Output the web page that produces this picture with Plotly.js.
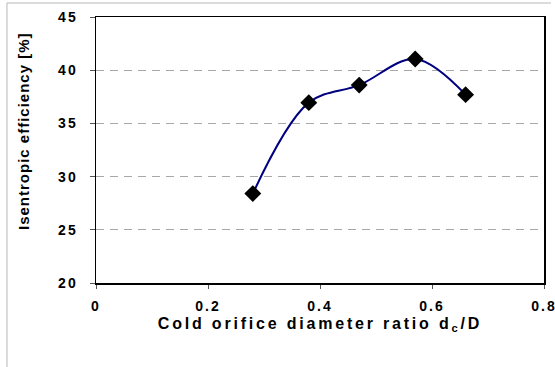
<!DOCTYPE html>
<html><head><meta charset="utf-8">
<script src="https://cdn.plot.ly/plotly-3.0.1.min.js"></script>
<style>
html,body{margin:0;padding:0;background:#fff;}
#chart{width:555px;height:367px;}
.xtick text,.ytick text{letter-spacing:2px;font-weight:bold !important;}
.g-xtitle text{letter-spacing:2.8px;font-weight:bold !important;}
.annotation-text{letter-spacing:1px;font-weight:bold !important;}
</style>
</head><body>
<div id="chart"></div>
<script>
const ratio = [0.28, 0.38, 0.47, 0.57, 0.66];
const efficiency = [28.4, 36.95, 38.6, 41.05, 37.7];
const yTicks = [20, 25, 30, 35, 40, 45];
const xTicks = [0, 0.2, 0.4, 0.6, 0.8];
const xTickText = ['0', '0.2', '0.4', '0.6', '0.8'];
const xTitle = 'Cold orifice diameter ratio d<sub>c</sub>/D';
const yTitle = 'Isentropic efficiency [%]';

const trace = {
  x: ratio, y: efficiency, type: 'scatter', mode: 'lines+markers',
  line: {color: '#000080', width: 2, shape: 'spline', smoothing: 1},
  marker: {symbol: 'diamond', size: 13, color: '#000000', line: {width: 0}},
  hoverinfo: 'skip'
};
const fam = 'Liberation Sans, Arial, sans-serif';
const layout = {
  width: 555, height: 367,
  margin: {l: 96, r: 11, t: 17, b: 84},
  paper_bgcolor: '#fff', plot_bgcolor: '#fff',
  showlegend: false,
  font: {family: fam, color: '#000'},
  xaxis: {
    range: [0, 0.8], tickvals: xTicks, ticktext: xTickText,
    showgrid: false, zeroline: false,
    showline: true, linecolor: '#000', linewidth: 1.5, mirror: true,
    ticks: 'outside', ticklen: 4, tickcolor: '#555', tickwidth: 1,
    ticklabeloverflow: 'allow', ticklabelstandoff: 6,
    tickfont: {family: fam, size: 14, color: '#000', weight: 700},
    title: {text: xTitle, standoff: 4,
      font: {family: fam, size: 16, color: '#000', weight: 700}}
  },
  yaxis: {
    range: [20, 45], tickvals: yTicks,
    showgrid: true, gridcolor: '#a8a8a8', gridwidth: 1, griddash: '8px,6px',
    zeroline: false,
    showline: true, linecolor: '#000', linewidth: 1.5, mirror: true,
    ticks: 'outside', ticklen: 5, tickcolor: '#555', tickwidth: 1,
    ticklabelstandoff: 9,
    tickfont: {family: fam, size: 14, color: '#000', weight: 700}
  },
  annotations: [
    {text: yTitle, xref: 'paper', yref: 'paper', x: -0.162, y: 0.573,
     xanchor: 'center', yanchor: 'middle', textangle: -90, showarrow: false,
     font: {family: fam, size: 15, color: '#000', weight: 700}}
  ],
  shapes: [
    {type: 'line', xref: 'paper', yref: 'paper', x0: -0.1987, x1: -0.1987, y0: 1.0526, y1: -0.35, line: {color: '#b8b8b8', width: 1}},
    {type: 'line', xref: 'paper', yref: 'paper', x0: -0.1987, x1: 1.0156, y0: 1.0526, y1: 1.0526, line: {color: '#b8b8b8', width: 1}}
  ]
};
Plotly.newPlot('chart', [trace], layout, {displayModeBar: false, staticPlot: true});
</script>
</body></html>
